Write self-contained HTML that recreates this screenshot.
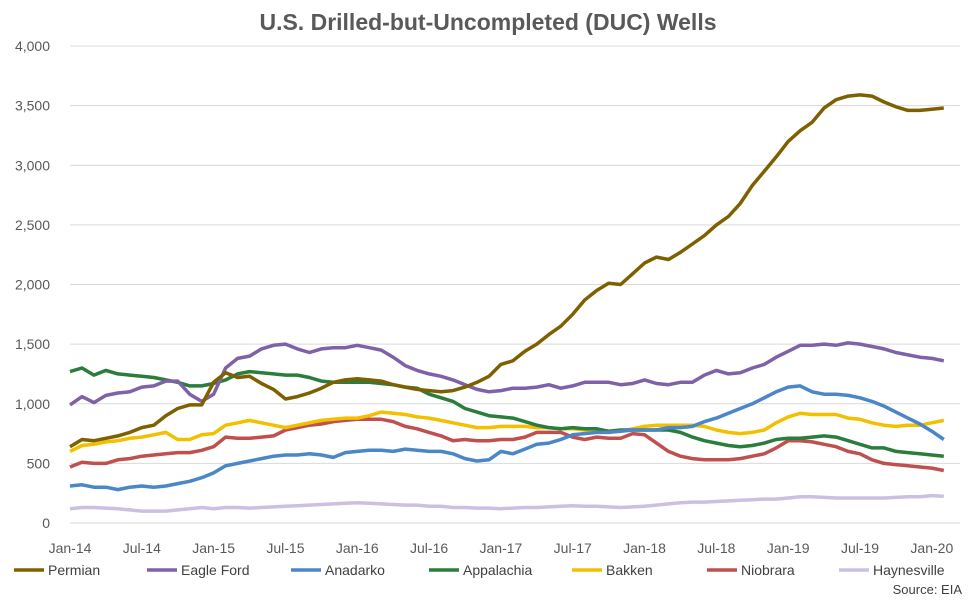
<!DOCTYPE html>
<html><head><meta charset="utf-8"><style>
body{margin:0;background:#fff;}
svg text{font-family:"Liberation Sans",sans-serif;}
</style></head><body>
<svg id="c" width="976" height="601" xmlns="http://www.w3.org/2000/svg"></svg>
<script>
const S=document.getElementById('c');let h='';
const X=i=>70+i*11.97, Y=v=>523-v*0.11925;
h+='<text x="488" y="30" text-anchor="middle" font-size="23" font-weight="bold" fill="#595959">U.S. Drilled-but-Uncompleted (DUC) Wells</text>';
for(let v=0;v<=4000;v+=500){const y=Y(v);h+=`<line x1="70" x2="960" y1="${y}" y2="${y}" stroke="#d9d9d9" stroke-width="1"/>`;
h+=`<text x="50" y="${y+5}" text-anchor="end" font-size="14" fill="#595959">${v.toLocaleString('en-US')}</text>`;}
const lab=['Jan-14','Jul-14','Jan-15','Jul-15','Jan-16','Jul-16','Jan-17','Jul-17','Jan-18','Jul-18','Jan-19','Jul-19','Jan-20'];
lab.forEach((l,k)=>{h+=`<text x="${X(k*6)}" y="553" text-anchor="middle" font-size="14" fill="#595959">${l}</text>`;});
const D=[
['Permian','#7f6000',[640,700,690,710,730,760,800,820,900,960,990,990,1180,1260,1220,1230,1170,1120,1040,1060,1090,1130,1180,1200,1210,1200,1190,1160,1140,1120,1110,1100,1110,1140,1180,1230,1330,1360,1440,1500,1580,1650,1750,1870,1950,2010,2000,2090,2180,2230,2210,2270,2340,2410,2500,2570,2680,2830,2950,3070,3200,3290,3360,3480,3550,3580,3590,3580,3530,3490,3460,3460,3470,3480]],
['Eagle Ford','#7f61a8',[990,1060,1010,1070,1090,1100,1140,1150,1190,1190,1080,1020,1080,1300,1380,1400,1460,1490,1500,1460,1430,1460,1470,1470,1490,1470,1450,1390,1320,1280,1250,1230,1200,1160,1120,1100,1110,1130,1130,1140,1160,1130,1150,1180,1180,1180,1160,1170,1200,1170,1160,1180,1180,1240,1280,1250,1260,1300,1330,1390,1440,1490,1490,1500,1490,1510,1500,1480,1460,1430,1410,1390,1380,1360]],
['Anadarko','#4a86c8',[310,320,300,300,280,300,310,300,310,330,350,380,420,480,500,520,540,560,570,570,580,570,550,590,600,610,610,600,620,610,600,600,580,540,520,530,600,580,620,660,670,700,740,750,760,760,770,780,780,780,800,800,810,850,880,920,960,1000,1050,1100,1140,1150,1100,1080,1080,1070,1050,1020,980,930,880,830,770,700]],
['Appalachia','#2a7d3c',[1270,1300,1240,1280,1250,1240,1230,1220,1200,1180,1150,1150,1170,1200,1250,1270,1260,1250,1240,1240,1220,1190,1180,1180,1180,1180,1170,1160,1140,1130,1080,1050,1020,960,930,900,890,880,850,820,800,790,800,790,790,770,780,780,780,780,780,760,720,690,670,650,640,650,670,700,710,710,720,730,720,690,660,630,630,600,590,580,570,560]],
['Bakken','#f2c000',[600,650,660,680,690,710,720,740,760,700,700,740,750,820,840,860,840,820,800,820,840,860,870,880,880,900,930,920,910,890,880,860,840,820,800,800,810,810,810,800,800,790,790,780,770,770,770,790,810,820,820,820,820,810,780,760,750,760,780,840,890,920,910,910,910,880,870,840,820,810,820,820,840,860]],
['Niobrara','#c0504d',[470,510,500,500,530,540,560,570,580,590,590,610,640,720,710,710,720,730,780,800,820,830,850,860,870,870,870,850,810,790,760,730,690,700,690,690,700,700,720,760,760,760,720,700,720,710,710,750,740,670,600,560,540,530,530,530,540,560,580,630,690,690,680,660,640,600,580,530,500,490,480,470,460,440]],
['Haynesville','#ccc0e0',[120,130,130,125,120,110,100,100,100,110,120,130,120,130,130,125,130,135,140,145,150,155,160,165,170,165,160,155,150,150,140,140,130,130,125,125,120,125,130,130,135,140,145,140,140,135,130,135,140,150,160,170,175,175,180,185,190,195,200,200,210,220,220,215,210,210,210,210,210,215,220,220,230,225]]];
[...D].reverse().forEach(s=>{h+=`<polyline fill="none" stroke="${s[1]}" stroke-width="3.5" stroke-linejoin="round" points="${s[2].map((v,i)=>X(i).toFixed(1)+','+Y(v).toFixed(1)).join(' ')}"/>`;});
const lx=[14,147,291,429,572,707,839];
D.forEach((s,k)=>{h+=`<line x1="${lx[k]}" x2="${lx[k]+30}" y1="570" y2="570" stroke="${s[1]}" stroke-width="3.5"/><text x="${lx[k]+34}" y="575" font-size="14" fill="#404040">${s[0]}</text>`;});
h+='<text x="962" y="594" text-anchor="end" font-size="13" fill="#404040">Source: EIA</text>';
S.innerHTML=h;
</script>
</body></html>
